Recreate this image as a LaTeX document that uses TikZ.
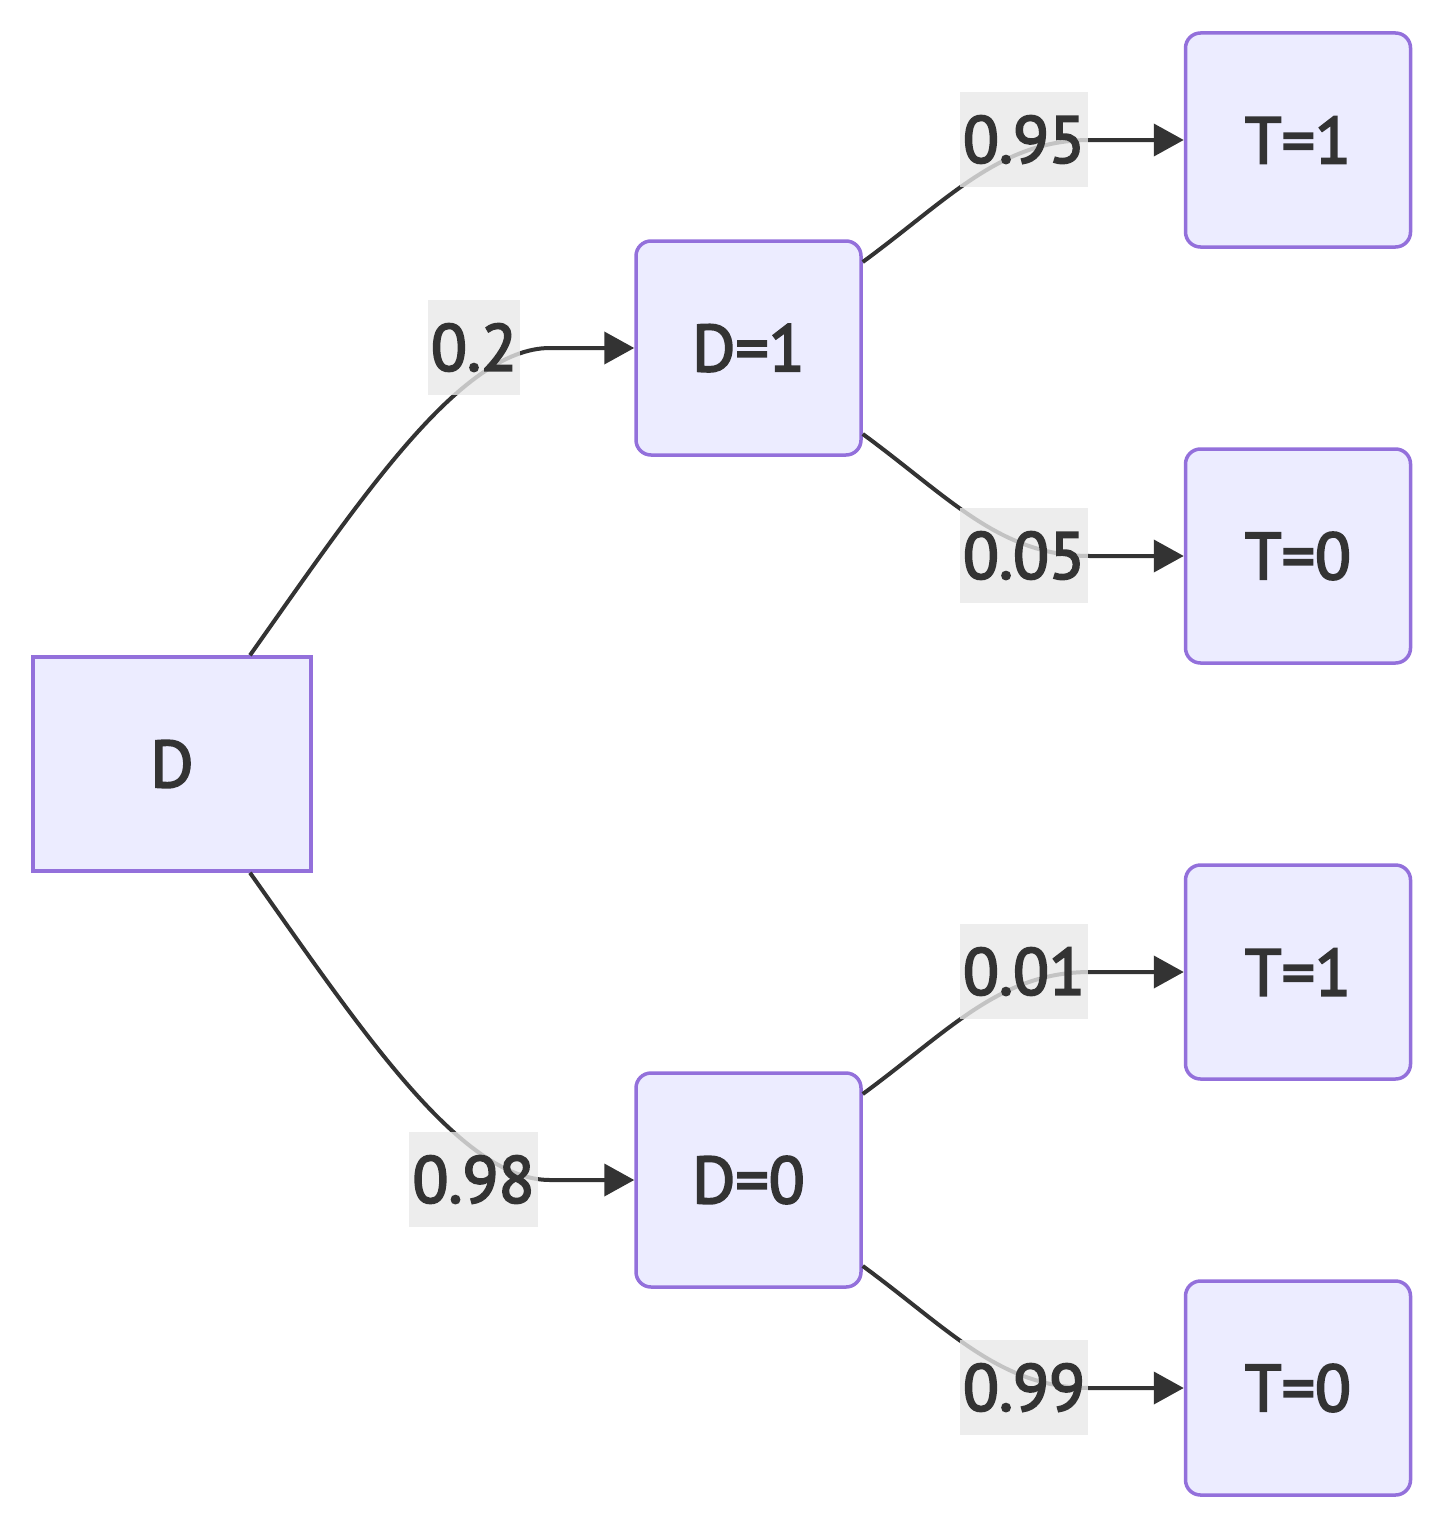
\documentclass[tikz,border=0pt]{standalone}
\usepackage{fontspec}
\setmainfont[FakeBold=3]{PT Sans}
\usetikzlibrary{arrows.meta}
\definecolor{nodefill}{HTML}{ECECFF}
\definecolor{nodeline}{HTML}{9370DB}
\definecolor{ink}{HTML}{333333}
\definecolor{lblfill}{HTML}{E8E8E8}
\tikzset{
  box/.style={draw=nodeline, fill=nodefill, line width=3.5pt, text=ink,
    minimum width=225pt, minimum height=214pt, rounded corners=15pt,
    font=\fontsize{66}{79}\selectfont, inner sep=0pt},
  sqbox/.style={box, rounded corners=0pt, minimum width=278pt},
  lbl/.style={fill=lblfill, fill opacity=0.8, text opacity=1, text=ink,
    minimum height=95pt, inner xsep=3pt, inner ysep=0pt,
    font=\fontsize{66}{79}\selectfont},
  edge/.style={draw=ink, line width=4pt,
    -{Triangle[length=30pt,width=32pt]}},
}
\begin{document}
\begin{tikzpicture}[x=1pt,y=-1pt]
\useasboundingbox (0,0) rectangle (1440,1528);
\node[sqbox] (D) at (172,764) {D};
\node[box] (D1) at (748.5,348) {D=1};
\node[box] (D0) at (748.5,1180) {D=0};
\node[box] (T11) at (1298,140) {T=1};
\node[box] (T10) at (1298,556) {T=0};
\node[box] (T01) at (1298,972) {T=1};
\node[box] (T00) at (1298,1388) {T=0};
% edges
\draw[edge] ([xshift=78pt]D.north) .. controls (360,500) and (460,348) .. (550,348) -- (D1.west);
\draw[edge] ([xshift=78pt]D.south) .. controls (360,1028) and (460,1180) .. (550,1180) -- (D0.west);
\draw[edge] ([yshift=86pt]D1.east) .. controls (950,198) and (1000,140) .. (1090,140) -- (T11.west);
\draw[edge] ([yshift=-86pt]D1.east) .. controls (950,498) and (1000,556) .. (1090,556) -- (T10.west);
\draw[edge] ([yshift=86pt]D0.east) .. controls (950,1030) and (1000,972) .. (1090,972) -- (T01.west);
\draw[edge] ([yshift=-86pt]D0.east) .. controls (950,1330) and (1000,1388) .. (1090,1388) -- (T00.west);
% labels
\node[lbl] (l1) at (474,347.5) {0.2};
\node[lbl] (l2) at (473.5,1179.5) {0.98};
\node[lbl] (l3) at (1024,139.5) {0.95};
\node[lbl] (l4) at (1024,555.5) {0.05};
\node[lbl] (l5) at (1024,971.5) {0.01};
\node[lbl] (l6) at (1024,1387.5) {0.99};
\end{tikzpicture}
\end{document}
